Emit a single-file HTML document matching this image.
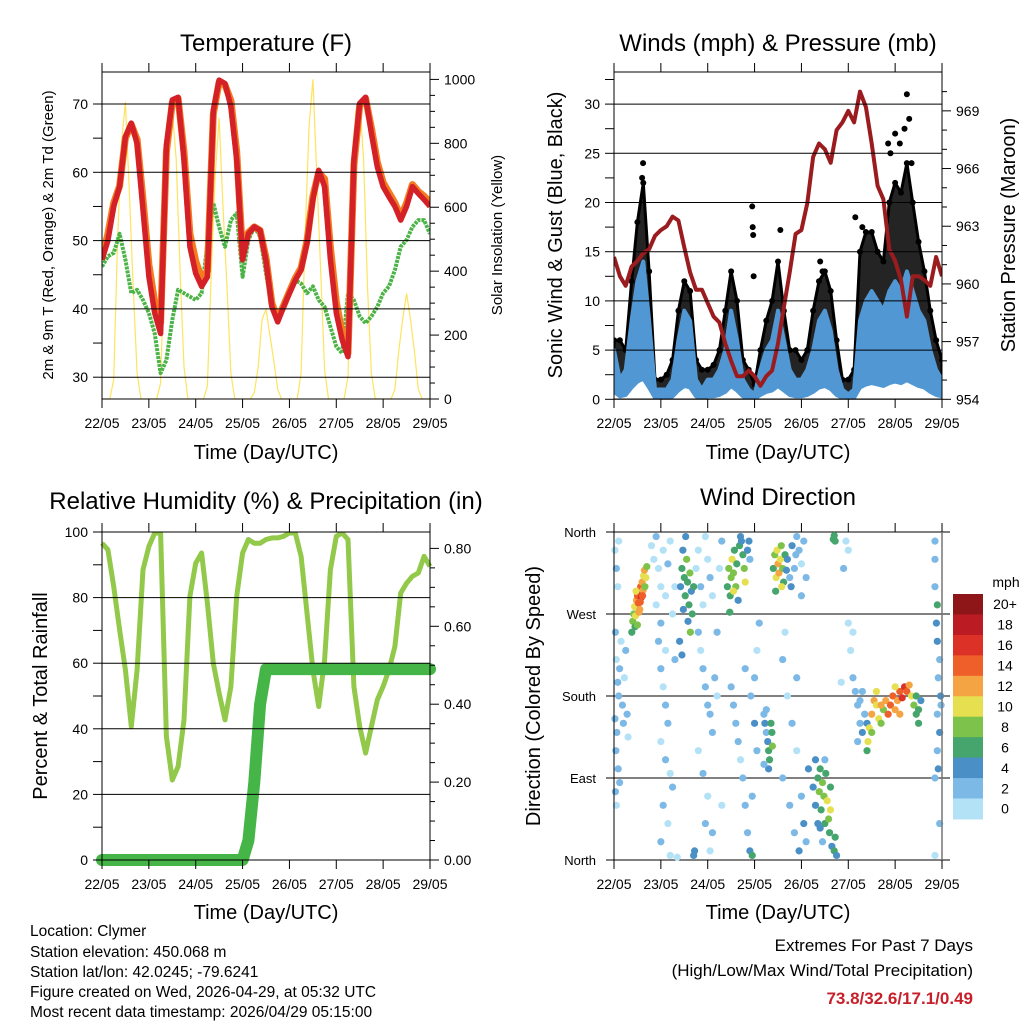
<!DOCTYPE html>
<html><head><meta charset="utf-8"><title>Station Meteogram</title>
<style>
html,body{margin:0;padding:0;background:#fff;}
svg{display:block;font-family:"Liberation Sans",Arial,sans-serif;}
</style></head>
<body>
<svg id="chart" xmlns="http://www.w3.org/2000/svg" width="1024" height="1024" viewBox="0 0 1024 1024">
<rect x="0" y="0" width="1024" height="1024" fill="#fff"/>
<text x="266" y="51" font-size="24" text-anchor="middle">Temperature (F)</text>
<text x="778" y="51" font-size="24" text-anchor="middle">Winds (mph) &amp; Pressure (mb)</text>
<text x="266" y="509" font-size="24" text-anchor="middle">Relative Humidity (%) &amp; Precipitation (in)</text>
<text x="778" y="505" font-size="24" text-anchor="middle">Wind Direction</text>
<text x="266" y="459" font-size="20" text-anchor="middle">Time (Day/UTC)</text>
<text x="778" y="459" font-size="20" text-anchor="middle">Time (Day/UTC)</text>
<text x="266" y="919" font-size="20" text-anchor="middle">Time (Day/UTC)</text>
<text x="778" y="919" font-size="20" text-anchor="middle">Time (Day/UTC)</text>
<text transform="translate(53,235) rotate(-90)" font-size="15" text-anchor="middle">2m &amp; 9m T (Red, Orange) &amp; 2m Td (Green)</text>
<text transform="translate(502,235) rotate(-90)" font-size="15" text-anchor="middle">Solar Insolation (Yellow)</text>
<text transform="translate(562,235) rotate(-90)" font-size="20" text-anchor="middle">Sonic Wind &amp; Gust (Blue, Black)</text>
<text transform="translate(1015,235) rotate(-90)" font-size="20" text-anchor="middle">Station Pressure (Maroon)</text>
<text transform="translate(47,696) rotate(-90)" font-size="20" text-anchor="middle">Percent &amp; Total Rainfall</text>
<text transform="translate(540,696) rotate(-90)" font-size="20" text-anchor="middle">Direction (Colored By Speed)</text>
<g font-size="15.5">
<text x="30" y="936">Location: Clymer</text>
<text x="30" y="957">Station elevation: 450.068 m</text>
<text x="30" y="977">Station lat/lon: 42.0245; -79.6241</text>
<text x="30" y="997">Figure created on Wed, 2026-04-29, at 05:32 UTC</text>
<text x="30" y="1017">Most recent data timestamp: 2026/04/29 05:15:00</text>
</g>
<g font-size="17" text-anchor="end">
<text x="973" y="951">Extremes For Past 7 Days</text>
<text x="973" y="976">(High/Low/Max Wind/Total Precipitation)</text>
<text x="973" y="1004" fill="#c8202a" font-weight="bold">73.8/32.6/17.1/0.49</text>
</g>
</svg>
<script>
// ---- data (3-hour steps starting 22/05 00 UTC) ----
const dayLabels=['22/05','23/05','24/05','25/05','26/05','27/05','28/05','29/05'];
const tStep=0.125;
const temp2m=[47.2,50,55,57.9,65.2,67.2,64.2,54.5,44.7,39.4,36.4,64,70.6,71,61.8,49.1,45.2,43.3,44.7,69,73.5,73,69.6,61.8,47.2,51,52,51.5,47,40.3,38.1,40.3,42.3,44.2,45.7,49.6,56,60.3,57.9,47.2,39.4,35.5,33,61.8,70.1,71,65.7,60.8,57.9,56.4,55,53,55,57.9,56.9,56,55];
const temp9m=[47.5,51,55.5,58,65,67,64.8,56,46.5,41,38,63,70.2,70.8,63,51,47,44.5,45.5,68.5,73.2,72.8,70.5,63,48,51.2,52,51.5,47.5,40.8,38.5,40.5,42.5,44.5,46,50,56.5,60,59,49,41,36.5,33.5,61,69.8,70.8,66.5,61.5,58.5,57,55.5,53.5,55.5,58.2,57.2,56.5,55.6];
const dewpoint=[46.2,47.7,48.2,51,47.2,42.3,42.8,41.3,39.4,36.4,30.6,32.5,38.4,42.8,42.3,41.8,41.3,42.3,49.6,55.5,52,49.1,53,54,44.7,50.1,52,50.6,45.2,40.3,37.9,40.3,42.3,44.2,43.7,42.3,43.3,41.3,40.3,37.4,34.5,33.5,42.3,41.3,38.9,37.9,38.9,40.3,42.3,43.3,45.7,49.1,50.1,52,53,53,51];
// solar insolation, 2-hour steps
const solarStep=1/12;
const solar=[0,0,0,60,500,800,930,650,350,80,0,0,
0,0,0,50,450,850,900,750,400,100,0,0,
0,0,0,40,400,700,880,600,350,80,0,0,
0,0,0,20,100,250,280,200,120,30,0,0,
0,0,0,80,500,850,1000,700,400,90,0,0,
0,0,0,70,550,900,930,750,350,80,0,0,
0,0,0,30,150,250,330,250,150,30,0,0,0];
const windSpeed=[5,2,3,8,12,14,8,1,1,1,2,6,9,8,2,1,2,2,3,5,9,6,2,1,0.5,3,5,6,9,6,3,2,2,3,5,8,9,7,3,1,0.5,1,8,10,11,10,9,11,12,11,13,11,9,8,5,3,2];
const windGust=[6,6,5,12,18,22,13,2,2,2.5,4,9,12,11,4,3,3,3.5,5,9,13,10,4,3,1.5,5,8,10,14,9,5,5,4,5,9,12,13,11,6,2,2,3,15,17,17,15,14,20,22,21,24,20,16,13,9,6,4];
const gustOutliers=[[0.62,24],[0.6,22.5],[2.95,19.6],[2.96,17.5],[2.97,16.7],[2.98,12.5],[3.55,17.2],[4.4,14],[4.45,13],[5.15,18.5],[5.3,17.5],[5.85,26],[5.9,25],[6.0,27],[6.1,26],[6.25,31],[6.3,28.5],[6.2,27.5],[6.35,24]];
const pressure=[961.4,960.4,959.9,960.9,961.2,961.6,961.8,962.5,962.8,963,963.5,963.3,961.9,960.6,959.7,959.7,959,958.3,958,956.9,956,955.2,955.2,955.5,955.2,954.7,955.2,955.5,956.9,958.8,960.6,962.6,962.8,964.2,966.6,967.3,967,966.3,968,968.4,969,968.4,970,969.2,967.3,965.1,964.4,961.8,961.2,960.2,958.3,960.4,960.4,960.2,959.9,961.4,960.4];
const relHum=[96.6,94.6,83.4,70.2,58,40.7,58,88.5,95.6,99.7,99.7,37.6,24.4,28.5,42.7,80.4,90.5,93.6,78.3,60,50.9,42.7,52.9,80.4,93.6,97.7,96.6,96.6,97.7,98.2,98.2,98.7,99.7,99.7,92.6,75.3,58,46.8,61,88.5,98.7,99.7,97.7,52.9,40.7,32.6,40.7,48.8,52.9,58,65.1,81.4,84.4,86.5,87.5,92.6,89.5];
const precip=[0,0,0,0,0,0,0,0,0,0,0,0,0,0,0,0,0,0,0,0,0,0,0,0,0,0.05,0.2,0.4,0.49,0.49,0.49,0.49,0.49,0.49,0.49,0.49,0.49,0.49,0.49,0.49,0.49,0.49,0.49,0.49,0.49,0.49,0.49,0.49,0.49,0.49,0.49,0.49,0.49,0.49,0.49,0.49,0.49];
// wind direction obs: [day, direction deg, speed mph]
const dirObs=[[0.40,262,9],[0.42,270,8],[0.44,278,10],[0.46,268,11],[0.48,285,12],[0.50,290,14],[0.52,282,15],[0.54,295,16],[0.55,275,13],[0.57,300,14],[0.58,288,17],[0.60,305,12],[0.62,296,13],[0.63,312,11],[0.65,318,12],[0.66,300,9],[0.68,310,10],[0.45,256,7],[0.50,258,9],[0.53,272,12],[0.56,283,14],[0.61,290,15],[0.70,322,8],[0.38,250,6],[0.47,295,11],
[0.02,340,1],[0.05,320,2],[0.08,300,0],[0.1,350,1],[0.03,250,2],[0.05,220,1],[0.08,195,3],[0.1,180,2],[0.02,155,3],[0.06,140,2],[0.04,120,3],[0.09,100,2],[0.12,210,2],[0.15,240,1],[0.18,170,3],[0.2,150,2],[0.22,200,1],[0.25,230,3],[0.28,160,2],[0.3,135,1],[0.12,85,3],[0.05,60,1],[0.03,75,3],
[0.8,345,0],[0.85,330,1],[0.9,355,2],[0.95,320,1],[1.0,300,0],[1.05,340,1],[1.1,290,0],[1.15,325,2],[1.2,350,1],[0.9,280,1],[1.0,260,2],[1.25,270,0],[1.3,300,1],[1.0,210,2],[1.05,190,1],[1.1,170,2],[1.15,150,3],[1.0,130,1],[1.1,110,2],[1.2,95,1],[1.25,80,2],[1.05,60,3],[1.15,40,1],[1.0,20,3],[1.2,5,0],[1.35,3,1],[1.1,230,1],[1.3,220,2],[0.95,240,2],
[1.42,300,5],[1.45,320,6],[1.47,340,5],[1.50,310,7],[1.52,290,6],[1.55,330,8],[1.57,305,7],[1.60,280,6],[1.62,315,9],[1.65,295,5],[1.67,270,7],[1.48,275,5],[1.58,262,4],[1.63,250,8],[1.53,355,4],[1.70,300,6],[1.4,240,4],[1.45,225,4],
[1.75,320,1],[1.8,340,0],[1.85,300,2],[1.9,280,1],[1.95,355,1],[2.0,330,0],[2.05,310,2],[2.1,290,1],[1.8,250,2],[1.85,230,1],[1.9,210,3],[1.95,190,2],[2.0,170,3],[2.05,160,2],[2.1,140,3],[2.15,200,2],[2.2,180,1],[1.8,120,1],[1.9,95,2],[2.0,70,1],[1.95,40,3],[2.05,10,1],[2.2,250,3],[2.25,320,1],[2.3,350,2],[1.7,5,4],[1.72,10,5],[2.3,60,1],[2.1,30,2],
[2.42,300,7],[2.45,320,8],[2.48,290,6],[2.50,310,9],[2.52,330,10],[2.55,315,8],[2.57,340,6],[2.60,300,9],[2.62,325,7],[2.65,285,5],[2.68,345,6],[2.70,355,5],[2.72,350,4],[2.75,335,7],[2.78,320,9],[2.80,305,10],[2.55,295,10],[2.47,272,7],[2.85,340,4],[2.88,350,5],[2.9,330,3],
[2.5,190,3],[2.55,170,2],[2.6,150,3],[2.65,130,2],[2.7,110,1],[2.75,90,3],[2.8,60,2],[2.85,30,3],[2.9,10,4],[2.95,5,6],[3.0,200,2],[3.05,230,1],[3.1,260,3],[3.0,150,4],[3.05,120,2],[2.92,180,3],[2.95,70,2],[2.8,210,2],
[3.2,160,3],[3.22,150,4],[3.25,140,3],[3.28,130,5],[3.30,120,6],[3.32,110,7],[3.35,150,6],[3.37,140,7],[3.25,165,2],[3.30,100,4],[3.38,125,8],[3.2,105,3],
[3.40,320,7],[3.43,335,9],[3.46,310,11],[3.48,340,10],[3.50,325,13],[3.52,315,12],[3.55,330,11],[3.57,345,9],[3.60,320,8],[3.62,305,7],[3.65,335,6],[3.45,295,6],[3.58,300,10],[3.68,318,5],
[3.7,330,4],[3.75,310,3],[3.8,345,4],[3.85,320,2],[3.9,355,3],[3.95,340,2],[4.0,325,1],[4.05,350,2],[3.78,300,4],[3.88,335,3],[4.1,310,2],[4.0,290,3],
[3.6,220,2],[3.7,180,1],[3.8,150,2],[3.9,120,1],[3.6,90,2],[3.75,60,3],[3.85,30,2],[3.95,10,4],[4.0,70,3],[4.05,40,4],[4.1,20,3],[4.15,100,4],[3.65,250,1],[3.9,200,2],
[4.25,80,4],[4.3,60,5],[4.35,90,6],[4.38,75,8],[4.4,100,7],[4.42,55,6],[4.45,85,9],[4.48,70,8],[4.5,40,7],[4.52,95,6],[4.55,65,10],[4.58,45,8],[4.6,30,6],[4.62,80,7],[4.65,15,5],[4.7,10,6],[4.72,25,7],[4.75,5,5],[4.4,35,4],[4.3,110,4],[4.5,110,3],[4.62,55,10],[4.45,20,3],[4.35,40,4],
[4.68,352,7],[4.7,356,7],[4.72,350,6],
[4.95,350,1],[5.0,340,1],[4.9,320,2],[5.0,260,1],[5.05,230,1],[5.1,200,2],[5.15,185,3],[5.2,170,3],[5.25,150,2],[5.1,250,1],[4.85,195,1],
[5.3,140,4],[5.35,160,3],[5.4,150,5],[5.45,145,11],[5.5,160,12],[5.55,175,13],[5.6,170,10],[5.65,155,11],[5.7,150,9],[5.75,165,8],[5.8,175,13],[5.85,160,14],[5.9,170,15],[5.95,180,14],[6.0,165,13],[6.05,175,12],[6.1,185,14],[6.15,178,16],[6.2,190,17],[6.25,185,15],[6.3,192,12],[6.35,180,10],[6.4,170,8],[6.45,160,7],[6.5,150,6],[6.55,175,5],[5.42,130,10],[5.5,140,9],[5.6,185,11],[5.7,170,12],[6.1,160,12],[6.45,180,6],[6.5,165,7],[5.4,120,7],[6.0,190,10],[5.25,175,3],[5.3,185,3],[5.2,130,3],
[6.85,300,3],[6.9,280,6],[6.88,260,5],[6.9,240,4],[6.95,220,3],[6.92,200,2],[6.97,180,4],[6.9,160,3],[6.95,140,4],[6.9,120,3],[6.92,100,4],[6.85,90,3],[6.98,170,3],[6.85,330,2],[6.85,350,2],[6.95,40,2],[6.85,5,1]];
const speedLabels=['0','2','4','6','8','10','12','14','16','18','20+'];
const speedColors=['#b3e2f6','#7db9e6','#4a8fc6','#45a56c','#7dc24a','#e6e051','#f5a443','#ee5f2a','#dc3126','#bb1b22','#8e1518'];
const dirLabels=['North','East','South','West','North'];

// ---- drawing ----
const NS='http://www.w3.org/2000/svg';
const svg=document.getElementById('chart');
function el(tag,attrs,parent){const e=document.createElementNS(NS,tag);for(const k in attrs)e.setAttribute(k,attrs[k]);(parent||svg).appendChild(e);return e;}
const P1={x:102,y:72,w:328,h:327},P2={x:614,y:72,w:328,h:327},P3={x:102,y:532,w:328,h:328},P4={x:614,y:532,w:328,h:328};
function xT(P,t){return P.x+t/7*P.w;}
const yT=v=>104+(70-v)*6.83, yS=s=>399-s*0.3196;
const yW=v=>399.3-v*9.84, yP=p=>399.3-(p-954)*19.23;
const yR=v=>860-v*3.28, yPr=p=>860-p*389.5;
const yD=d=>860-d/360*328;

function lineFrom(P,vals,step,yf){return vals.map((v,i)=>xT(P,i*step).toFixed(1)+','+yf(v).toFixed(1)).join(' ');}

function xAxis(P,prefix){
  const g=el('g',{});
  
  
  dayLabels.forEach((d,i)=>{
    const x=xT(P,i);
    const t1=el('line',{x1:x,y1:P.y-9,x2:x,y2:P.y,stroke:'#000','stroke-width':1},g);
    
    
    const t2=el('line',{x1:x,y1:P.y+P.h,x2:x,y2:P.y+P.h+9,stroke:'#000','stroke-width':1},g);
    
    
    const tx=el('text',{x:x,y:P.y+P.h+29,'font-size':14,'text-anchor':'middle'},g);
    tx.textContent=d;
    
    
  });
}
function yAxis(P,prefix,side,vals,yf,labelEvery,fmt,grid){
  const g=el('g',{});
  
  
  vals.forEach((v,i)=>{
    const y=yf(v);
    const major=i%labelEvery===0;
    const len=side==='right'?(major?9:5):9;
    const x0=side==='left'?P.x-len:P.x+P.w, x1=side==='left'?P.x:P.x+P.w+len;
    const tk=el('line',{x1:x0,y1:y,x2:x1,y2:y,stroke:'#000','stroke-width':1},g);
    
    
    if(major){
      if(grid){
        const gl=el('line',{x1:P.x,y1:y,x2:P.x+P.w,y2:y,stroke:'#000','stroke-width':1},g);
        
        
      }
      const tx=el('text',{x:side==='left'?P.x-14:P.x+P.w+14,y:y+5,'font-size':14,'text-anchor':side==='left'?'end':'start'},g);
      tx.textContent=fmt(v);
      
      
    }
  });
}
function frame(P,prefix){
  const r=el('rect',{x:P.x,y:P.y,width:P.w,height:P.h,fill:'none',stroke:'#000','stroke-width':1});
  
  
}
function range(a,b,s){const o=[];for(let v=a;v<=b+1e-9;v+=s)o.push(+v.toFixed(4));return o;}

// ===== Panel 1: temperature =====
const clip1=el('clipPath',{id:'c1'});el('rect',{x:P1.x,y:P1.y,width:P1.w,height:P1.h},clip1);
const g1=el('g',{'clip-path':'url(#c1)'});


let e;
e=el('polyline',{points:lineFrom(P1,solar,solarStep,yS),fill:'none',stroke:'#fde35e','stroke-width':1.2},g1);


e=el('polyline',{points:lineFrom(P1,dewpoint,tStep,yT),fill:'none',stroke:'#4cb447','stroke-width':4,'stroke-linejoin':'round','stroke-dasharray':'3 1'},g1);


e=el('polyline',{points:lineFrom(P1,temp9m,tStep,yT),fill:'none',stroke:'#f47b20','stroke-width':7,'stroke-linejoin':'round'},g1);


e=el('polyline',{points:lineFrom(P1,temp2m,tStep,yT),fill:'none',stroke:'#d42027','stroke-width':5.5,'stroke-linejoin':'round'},g1);


yAxis(P1,'temp','left',range(30,70,5),yT,2,v=>String(v),true);
yAxis(P1,'solar','right',range(0,1000,50),yS,4,v=>String(v),false);
xAxis(P1,'temp');frame(P1,'temp');

// ===== Panel 2: winds =====
const clip2=el('clipPath',{id:'c2'});el('rect',{x:P2.x,y:P2.y,width:P2.w,height:P2.h},clip2);
const g2=el('g',{'clip-path':'url(#c2)'});


yAxis(P2,'wind','left',range(0,32.5,2.5),yW,2,v=>String(v),true);
{
  const up=windGust.map((v,i)=>xT(P2,i*tStep).toFixed(1)+','+yW(v).toFixed(1));
  const dn=windSpeed.map((v,i)=>xT(P2,i*tStep).toFixed(1)+','+yW(v).toFixed(1)).reverse();
  e=el('polygon',{points:up.concat(dn).join(' '),fill:'#111',stroke:'#000','stroke-width':3,'stroke-linejoin':'round','fill-opacity':0.92},g2);
  
  
  windGust.forEach((v,i)=>{
    const c=el('circle',{cx:xT(P2,i*tStep),cy:yW(v),r:3,fill:'#000'},g2);
    
    
  });
  gustOutliers.forEach(o=>{
    const c=el('circle',{cx:xT(P2,o[0]),cy:yW(o[1]),r:3,fill:'#000'},g2);
    
    
  });
  const wu=windSpeed.map((v,i)=>xT(P2,i*tStep).toFixed(1)+','+yW(v).toFixed(1));
  const wd=windSpeed.map((v,i)=>xT(P2,i*tStep).toFixed(1)+','+yW(v*0.15).toFixed(1)).reverse();
  e=el('polygon',{points:wu.concat(wd).join(' '),fill:'#5197d3',stroke:'#5197d3','stroke-width':4,'stroke-linejoin':'round'},g2);
  
  
}
e=el('polyline',{points:lineFrom(P2,pressure,tStep,yP),fill:'none',stroke:'#9b1c1f','stroke-width':4,'stroke-linejoin':'round'},g2);


yAxis(P2,'pressure','right',range(954,970,1),yP,3,v=>String(v),false);
xAxis(P2,'winds');frame(P2,'winds');

// ===== Panel 3: RH & precip =====
const clip3=el('clipPath',{id:'c3'});el('rect',{x:P3.x-8,y:P3.y,width:P3.w+16,height:P3.h+8},clip3);
const g3=el('g',{'clip-path':'url(#c3)'});


yAxis(P3,'rh','left',range(0,100,10),yR,2,v=>String(v),true);
e=el('polyline',{points:lineFrom(P3,relHum,tStep,yR),fill:'none',stroke:'#92c94a','stroke-width':5,'stroke-linejoin':'round'},g3);


e=el('polyline',{points:lineFrom(P3,precip,tStep,yPr),fill:'none',stroke:'#45b548','stroke-width':12,'stroke-linejoin':'round','stroke-linecap':'round'},g3);


yAxis(P3,'precip','right',range(0,0.8,0.05),yPr,4,v=>v.toFixed(2),false);
xAxis(P3,'rh');frame(P3,'rh');

// ===== Panel 4: wind direction =====
dirLabels.forEach((d,i)=>{
  const y=yD(i*90);
  const gl=el('line',{x1:P4.x-8,y1:y,x2:P4.x+P4.w+8,y2:y,stroke:'#000','stroke-width':1});
  
  
  const tx=el('text',{x:P4.x-18,y:y+5,'font-size':13,'text-anchor':'end'});
  tx.textContent=d;
  
  
});
const g4=el('g',{});


dirObs.forEach(o=>{
  const ci=Math.min(10,Math.floor(o[2]/2));
  const c=el('circle',{cx:xT(P4,o[0]),cy:yD(o[1]),r:3.6,fill:speedColors[ci]},g4);
  
  
});
xAxis(P4,'direction');
e=el('line',{x1:P4.x,y1:P4.y,x2:P4.x,y2:P4.y+P4.h,stroke:'#000','stroke-width':1});


e=el('line',{x1:P4.x+P4.w,y1:P4.y,x2:P4.x+P4.w,y2:P4.y+P4.h,stroke:'#777','stroke-width':1.5});


// colorbar
const cb=el('g',{});


const cbTop=594,cbH=20.45;
speedColors.slice().reverse().forEach((col,i)=>{
  const r=el('rect',{x:953,y:cbTop+i*cbH,width:30,height:cbH+0.5,fill:col},cb);
  
  
});
speedLabels.slice().reverse().forEach((lab,i)=>{
  const t=el('text',{x:1005,y:cbTop+i*cbH+cbH/2+5,'font-size':14,'text-anchor':'middle'},cb);
  t.textContent=lab;
  
  
});
e=el('text',{x:1006,y:587,'font-size':14,'text-anchor':'middle'},cb);
e.textContent='mph';


</script>
</body></html>
